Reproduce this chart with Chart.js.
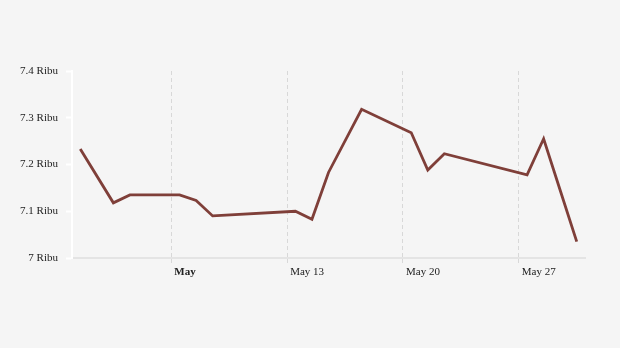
<!DOCTYPE html>
<html>
<head>
<meta charset="utf-8">
<script src="https://cdn.jsdelivr.net/npm/chart.js@4"></script>
<style>
  html, body { margin: 0; padding: 0; background: #f5f5f5; }
  #wrap { width: 620px; height: 348px; }
</style>
</head>
<body>
<div id="wrap"><canvas id="chart" width="620" height="348"></canvas></div>
<script>
// trading days and closing prices (rupiah)
const tradeDays = ["2024-04-30","2024-05-02","2024-05-03","2024-05-06","2024-05-07","2024-05-08",
  "2024-05-13","2024-05-14","2024-05-15","2024-05-17","2024-05-20","2024-05-21","2024-05-22",
  "2024-05-27","2024-05-28","2024-05-29","2024-05-30"];
const closes = [7233, 7118, 7135, 7135, 7123, 7090, 7100, 7083, 7183, 7318, 7268, 7188, 7223,
  7178, 7255, 7145, 7035];
const weekTicks = ["2024-05-06","2024-05-13","2024-05-20","2024-05-27"];
const weekLabels = ["May", "May 13", "May 20", "May 27"];
const yTicks = [7000, 7100, 7200, 7300, 7400];

const startDay = Date.UTC(2024, 3, 30);
const dayOf = (s) => (Date.parse(s + "T00:00:00Z") - startDay) / 86400000;

const points = tradeDays.map((d, i) => ({ x: dayOf(d) + 0.5, y: closes[i] }));
const tickVals = weekTicks.map(dayOf);

new Chart(document.getElementById("chart"), {
  type: "line",
  data: { datasets: [{ data: points, borderColor: "#7f3f39", borderWidth: 2.8,
    pointRadius: 0, tension: 0, fill: false }] },
  options: {
    responsive: false, animation: false,
    layout: { padding: { top: 71, right: 35, left: 0, bottom: 0 } },
    plugins: { legend: { display: false }, tooltip: { enabled: false } },
    scales: {
      x: {
        type: "linear", min: 0, max: 31,
        afterBuildTicks: (s) => { s.ticks = tickVals.map(v => ({ value: v })); },
        afterFit: (s) => { s.height = 90; },
        grid: { color: "#d8d8d8", lineWidth: 1, tickLength: 5 },
        border: { display: true, color: "#e4e4e4", width: 2, dash: [4, 3] },
        ticks: {
          align: "start", labelOffset: 3, padding: 3, maxRotation: 0, autoSkip: false,
          color: "#222",
          font: (c) => ({ family: "'Liberation Serif', 'DejaVu Serif', serif", size: 11,
            weight: c.index === 0 ? "bold" : "normal" }),
          callback: (v, i) => weekLabels[i]
        }
      },
      y: {
        min: 7000, max: 7400,
        afterBuildTicks: (s) => { s.ticks = yTicks.map(v => ({ value: v })); },
        afterFit: (s) => { s.width = 72; },
        grid: { drawOnChartArea: false, drawTicks: true, tickLength: 6, tickColor: "#ffffff", tickWidth: 2 },
        border: { display: true, color: "#ffffff", width: 2 },
        ticks: {
          padding: 8, color: "#222",
          font: { family: "'Liberation Serif', 'DejaVu Serif', serif", size: 11 },
          callback: (v) => (v / 1000) + " Ribu"
        }
      }
    }
  }
});
</script>
</body>
</html>
